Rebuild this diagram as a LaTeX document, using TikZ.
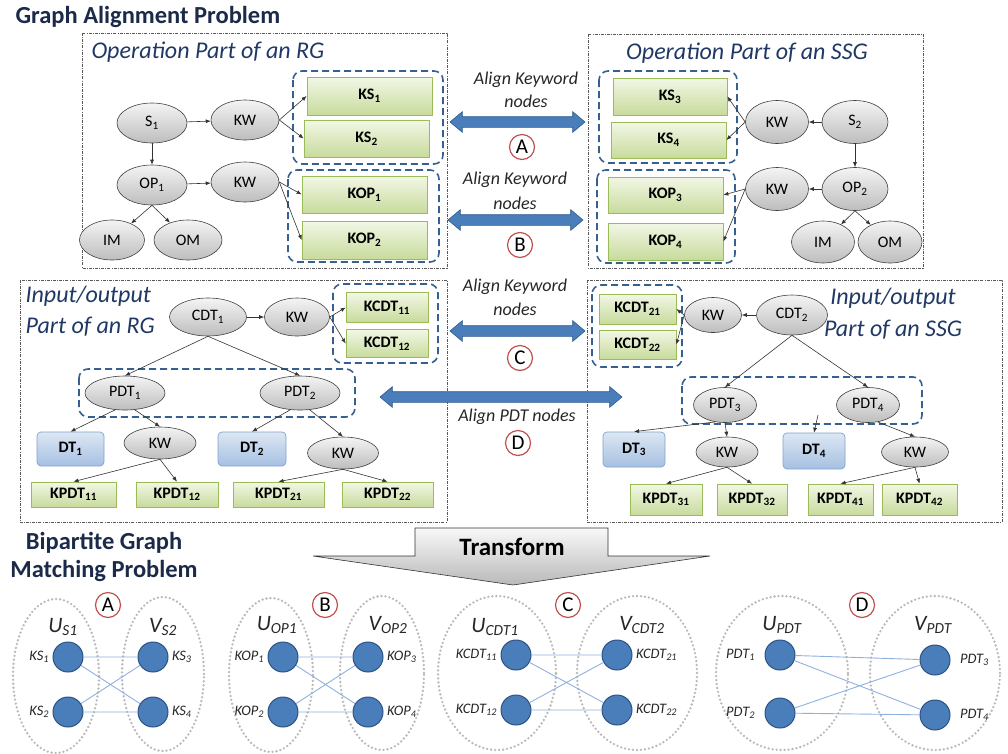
\documentclass[tikz,border=0pt]{standalone}
\usepackage{fontspec}
\setmainfont{Carlito}
\usetikzlibrary{positioning,shapes.geometric,shapes.arrows,arrows.meta}

\definecolor{darknavy}{HTML}{1B2A49}
\definecolor{navy}{HTML}{1F3864}
\definecolor{ellA}{HTML}{F4F4F4}
\definecolor{ellB}{HTML}{BDBDBD}
\definecolor{ktop}{HTML}{F2F7E6}
\definecolor{kbot}{HTML}{C8DB9C}
\definecolor{kline}{HTML}{9BBB59}
\definecolor{dttop}{HTML}{DDE7F3}
\definecolor{dtbot}{HTML}{A6C0E2}
\definecolor{dtline}{HTML}{7FA2CF}
\definecolor{grpblue}{HTML}{36608F}
\definecolor{arrfill}{HTML}{4A7EBB}
\definecolor{arrline}{HTML}{2E5A8C}
\definecolor{tagred}{HTML}{C0504D}
\definecolor{bfill}{HTML}{4A7EBB}
\definecolor{bline}{HTML}{2C5282}
\definecolor{bedgec}{HTML}{8FB1DE}

\newcommand{\pxsize}[1]{\fontsize{#1}{#1}\selectfont}
\newcommand{\sbx}[1]{\textsubscript{#1}}

\begin{document}
\begin{tikzpicture}[x=1pt,y=-1pt,
  gnode/.style 2 args={ellipse, draw=black!75, line width=0.6pt, top color=ellA, bottom color=ellB, inner sep=0pt, minimum width=#1pt, minimum height=#2pt, font=\pxsize{16}},
  kbox/.style 2 args={rectangle, draw=kline, line width=0.7pt, top color=ktop, bottom color=kbot, inner sep=0pt, minimum width=#1pt, minimum height=#2pt, font=\pxsize{16}\bfseries},
  dtbox/.style 2 args={rectangle, rounded corners=4pt, draw=dtline, line width=0.7pt, top color=dttop, bottom color=dtbot, inner sep=0pt, minimum width=#1pt, minimum height=#2pt, font=\pxsize{16}\bfseries},
  grp/.style={draw=grpblue, line width=1.6pt, dash pattern=on 7pt off 4pt, rounded corners=9pt},
  part/.style={draw=black!65, line width=0.7pt, dash pattern=on 3pt off 1.2pt on 0.8pt off 1.2pt},
  link/.style={draw=black!80, line width=0.6pt, -{Latex[length=5pt,width=4pt]}},
  align/.style={double arrow, draw=arrline, fill=arrfill, line width=0.6pt, inner xsep=0pt, inner ysep=5pt, double arrow head extend=5pt, double arrow tip angle=80},
  tag/.style={circle, draw=tagred, line width=1.2pt, fill=white, minimum size=25pt, inner sep=0pt, font=\pxsize{21}},
  note/.style={font=\pxsize{18}\itshape, text=black!85},
  ptitle/.style={font=\pxsize{24}\itshape, text=navy},
  htitle/.style={font=\pxsize{24.5}\bfseries, text=darknavy},
  bnode/.style={circle, fill=bfill, draw=bline, line width=1pt, minimum size=30pt, inner sep=0pt},
  blbl/.style={font=\pxsize{14.5}\itshape, text=black!85},
  bedge/.style={draw=bedgec, line width=0.9pt},
  side/.style={ellipse, draw=gray!55, line width=2.6pt, dash pattern=on 0pt off 4pt, line cap=round, minimum width=#1, minimum height=154pt, inner sep=0pt},
  setname/.style={font=\pxsize{22}\itshape, text=black!85}
]
\useasboundingbox (0,0) rectangle (1008,753);

\node[htitle, anchor=west] (head1) at (12,17) {Graph Alignment Problem};

% operation part of the RG
\draw[part] (82,33) rectangle (447,268);
\node[ptitle, anchor=west] (t1) at (88,52) {Operation Part of an RG};
\node[gnode={70}{40}] (s1) at (152,123) {S\sbx{1}};
\node[gnode={68}{40}] (kwa) at (245,120) {KW};
\node[gnode={70}{40}] (op1) at (152,185) {OP\sbx{1}};
\node[gnode={68}{40}] (kwb) at (245,182) {KW};
\node[gnode={65}{40}] (im1) at (112,240) {IM};
\node[gnode={68}{40}] (om1) at (188,240) {OM};
\node[kbox={125}{38}] (ks1) at (369.5,96) {KS\sbx{1}};
\node[kbox={125}{37}] (ks2) at (366.5,138.5) {KS\sbx{2}};
\node[kbox={125}{37}] (kop1) at (364.5,194.5) {KOP\sbx{1}};
\node[kbox={125}{38}] (kop2) at (364.5,240) {KOP\sbx{2}};
\draw[grp] (293,71) rectangle (443,164);
\draw[grp] (288,170) rectangle (439,262);
\draw[link] (s1) -- (kwa);
\draw[link] (s1) -- (op1);
\draw[link] (op1) -- (kwb);
\draw[link] (op1.south) -- (im1);
\draw[link] (op1.south) -- (om1);
\draw[link] (kwa.east) -- (ks1.west);
\draw[link] (kwa.east) -- (ks2.west);
\draw[link] (kwb.east) -- (kop1.west);
\draw[link] (kwb.east) -- (kop2.west);

% operation part of the SSG
\draw[part] (588,34) rectangle (923,268);
\node[ptitle] (t2) at (747,53) {Operation Part of an SSG};
\node[kbox={114}{37}] (ks3) at (670,96.5) {KS\sbx{3}};
\node[kbox={115}{36}] (ks4) at (668.5,140) {KS\sbx{4}};
\node[kbox={115}{36}] (kop3) at (665.5,195) {KOP\sbx{3}};
\node[kbox={115}{37}] (kop4) at (665.5,241.5) {KOP\sbx{4}};
\draw[grp] (599,71) rectangle (737,163);
\draw[grp] (597,170) rectangle (735,263);
\node[gnode={63}{43}] (kwc) at (777,122) {KW};
\node[gnode={66}{43}] (s2) at (855,122) {S\sbx{2}};
\node[gnode={63}{43}] (kwd) at (777,189) {KW};
\node[gnode={66}{43}] (op2) at (855,189) {OP\sbx{2}};
\node[gnode={63}{42}] (im2) at (823,242) {IM};
\node[gnode={64}{42}] (om2) at (890,242) {OM};
\draw[link] (s2) -- (kwc);
\draw[link] (s2) -- (op2);
\draw[link] (op2) -- (kwd);
\draw[link] (op2.south) -- (im2);
\draw[link] (op2.south) -- (om2);
\draw[link] (kwc.west) -- (ks3.east);
\draw[link] (kwc.west) -- (ks4.east);
\draw[link] (kwd.west) -- (kop3.east);
\draw[link] (kwd.west) -- (kop4.east);

% input/output part of the RG
\draw[part] (20,280) rectangle (447,522);
\node[ptitle, anchor=west] (t3a) at (22,296) {Input/output};
\node[ptitle, anchor=west] (t3b) at (22,327) {Part of an RG};
\node[gnode={77}{38}] (cdt1) at (208,317) {CDT\sbx{1}};
\node[gnode={65}{38}] (kwe) at (297,317) {KW};
\node[kbox={82}{30}] (kcdt11) at (387,307.5) {KCDT\sbx{11}};
\node[kbox={82}{28}] (kcdt12) at (387,343.5) {KCDT\sbx{12}};
\draw[grp] (333,284) rectangle (438,363);
\node[gnode={80}{34}] (pdt1) at (125,393) {PDT\sbx{1}};
\node[gnode={80}{34}] (pdt2) at (300,393) {PDT\sbx{2}};
\draw[grp] (79,369) rectangle (355,417);
\node[dtbox={67}{34}] (dt1) at (70.5,449) {DT\sbx{1}};
\node[dtbox={68}{34}] (dt2) at (252,449) {DT\sbx{2}};
\node[gnode={72}{32}] (kwf) at (160,443) {KW};
\node[gnode={71}{32}] (kwg) at (343,453) {KW};
\node[kbox={85}{25}] (kpdt11) at (73.5,494.5) {KPDT\sbx{11}};
\node[kbox={82}{25}] (kpdt12) at (177,494.5) {KPDT\sbx{12}};
\node[kbox={91}{25}] (kpdt21) at (278.5,494.5) {KPDT\sbx{21}};
\node[kbox={91}{25}] (kpdt22) at (387.5,494.5) {KPDT\sbx{22}};
\draw[link] (cdt1) -- (kwe);
\draw[link] (kwe.east) -- (kcdt11.west);
\draw[link] (kwe.east) -- (kcdt12.west);
\draw[link] (cdt1.south) -- (pdt1.north);
\draw[link] (cdt1.south) -- (pdt2.north);
\draw[link] (pdt1.-120) -- (dt1.north);
\draw[link] (pdt1.-60) -- (kwf.north);
\draw[link] (pdt2.-120) -- (dt2.north);
\draw[link] (pdt2.-60) -- (kwg.north);
\draw[link] (kwf.south) -- (kpdt11.north);
\draw[link] (kwf.south) -- (kpdt12.north);
\draw[link] (kwg.south) -- (kpdt21.north);
\draw[link] (kwg.south) -- (kpdt22.north);

% input/output part of the SSG
\draw[part] (587,280) rectangle (1002,522);
\node[ptitle] (t4a) at (893,298) {Input/output};
\node[ptitle] (t4b) at (893,330) {Part of an SSG};
\node[kbox={77}{30}] (kcdt21) at (637.5,309) {KCDT\sbx{21}};
\node[kbox={77}{29}] (kcdt22) at (637.5,344.5) {KCDT\sbx{22}};
\draw[grp] (592,285) rectangle (682,367);
\node[gnode={57}{35}] (kwh) at (713,315) {KW};
\node[gnode={71}{40}] (cdt2) at (792,315) {CDT\sbx{2}};
\node[gnode={63}{35}] (pdt3) at (725,405) {PDT\sbx{3}};
\node[gnode={63}{35}] (pdt4) at (868,405) {PDT\sbx{4}};
\draw[grp] (682,377) rectangle (922,424);
\node[dtbox={62}{35}] (dt3) at (634,449.5) {DT\sbx{3}};
\node[dtbox={62}{36}] (dt4) at (814,451) {DT\sbx{4}};
\node[gnode={62}{30}] (kwi) at (727,452) {KW};
\node[gnode={67}{30}] (kwj) at (915,452) {KW};
\node[kbox={72}{31}] (kpdt31) at (666,499.5) {KPDT\sbx{31}};
\node[kbox={70}{31}] (kpdt32) at (752,499.5) {KPDT\sbx{32}};
\node[kbox={65}{31}] (kpdt41) at (840.5,499.5) {KPDT\sbx{41}};
\node[kbox={75}{31}] (kpdt42) at (919.5,499.5) {KPDT\sbx{42}};
\coordinate (dtstub) at (818,415);
\draw[link] (cdt2) -- (kwh);
\draw[link] (kwh.west) -- (kcdt21.east);
\draw[link] (kwh.west) -- (kcdt22.east);
\draw[link] (cdt2.south) -- (pdt3.north);
\draw[link] (cdt2.south) -- (pdt4.north);
\draw[link] (pdt3.-120) -- (dt3.north);
\draw[link] (pdt3.-90) -- (kwi.north);
\draw[link] (pdt4.-60) -- (kwj.north);
\draw[link] (dtstub) -- (dt4.north);
\draw[link] (kwi.south) -- (kpdt31.north);
\draw[link] (kwi.south) -- (kpdt32.north);
\draw[link] (kwj.south) -- (kpdt41.north);
\draw[link] (kwj.south) -- (kpdt42.north);

% alignment arrows
\node[note] (na1) at (526,80) {Align Keyword};
\node[note] (na2) at (526,101) {nodes};
\node[align, minimum height=135pt] (alA) at (517.5,122) {};
\node[tag] (tgA) at (522,147) {A};
\node[note] (nb1) at (515,180) {Align Keyword};
\node[note] (nb2) at (515,203) {nodes};
\node[align, minimum height=135pt] (alB) at (515.5,220) {};
\node[tag] (tgB) at (520,245) {B};
\node[note] (nc1) at (515,287) {Align Keyword};
\node[note] (nc2) at (515,309) {nodes};
\node[align, minimum height=135pt] (alC) at (517.5,331) {};
\node[tag] (tgC) at (520,358) {C};
\node[align, minimum height=242pt] (alD) at (501,397) {};
\node[note] (nd) at (517,417) {Align PDT nodes};
\node[tag] (tgD) at (518,443) {D};

% transform
\shade[top color=gray!5, bottom color=gray!55, draw=black!80, line width=0.6pt]
  (415,528) -- (608,528) -- (608,556) -- (710,556) -- (513,585) -- (313,556) -- (415,556) -- cycle;
\node[font=\pxsize{25}\bfseries] (xform) at (512,547) {Transform};
\node[htitle] (head2a) at (104,543) {Bipartite Graph};
\node[htitle] (head2b) at (104,571) {Matching Problem};

% bipartite A
\node[side=86pt] (ua) at (56,676) {};
\node[side=82pt] (va) at (163,674) {};
\node[tag] (bA) at (108,605) {A};
\node[setname] (lua) at (63,627) {U\sbx{S1}};
\node[setname] (lva) at (163,627) {V\sbx{S2}};
\node[bnode, label={[blbl]left:KS\sbx{1}}] (a1) at (68,657) {};
\node[bnode, label={[blbl]left:KS\sbx{2}}] (a2) at (68,712) {};
\node[bnode, label={[blbl]right:KS\sbx{3}}] (a3) at (153,657) {};
\node[bnode, label={[blbl]right:KS\sbx{4}}] (a4) at (153,712) {};
\draw[bedge] (a1) -- (a3) (a1) -- (a4) (a2) -- (a3) (a2) -- (a4);

% bipartite B
\node[side=84pt] (ub) at (271,675) {};
\node[side=84pt] (vb) at (382,673) {};
\node[tag] (bB) at (325,605) {B};
\node[setname] (lub) at (277,625) {U\sbx{OP1}};
\node[setname] (lvb) at (388,625) {V\sbx{OP2}};
\node[bnode, label={[blbl]left:KOP\sbx{1}}] (b1) at (283,657) {};
\node[bnode, label={[blbl]left:KOP\sbx{2}}] (b2) at (283,712) {};
\node[bnode, label={[blbl]right:KOP\sbx{3}}] (b3) at (368,657) {};
\node[bnode, label={[blbl]right:KOP\sbx{4}}] (b4) at (368,712) {};
\draw[bedge] (b1) -- (b3) (b1) -- (b4) (b2) -- (b3) (b2) -- (b4);

% bipartite C
\node[side=118pt] (uc) at (497,673) {};
\node[side=120pt] (vc) at (637,673) {};
\node[tag] (bC) at (568,605) {C};
\node[setname] (luc) at (495,627) {U\sbx{CDT1}};
\node[setname] (lvc) at (642,625) {V\sbx{CDT2}};
\node[bnode, label={[blbl]left:KCDT\sbx{11}}] (c1) at (516,655) {};
\node[bnode, label={[blbl]left:KCDT\sbx{12}}] (c2) at (516,710) {};
\node[bnode, label={[blbl]right:KCDT\sbx{21}}] (c3) at (617,655) {};
\node[bnode, label={[blbl]right:KCDT\sbx{22}}] (c4) at (617,710) {};
\draw[bedge] (c1) -- (c3) (c1) -- (c4) (c2) -- (c3) (c2) -- (c4);

% bipartite D
\node[side=132pt] (ud) at (782,673) {};
\node[side=130pt] (vd) at (935,673) {};
\node[tag] (bD) at (862,605) {D};
\node[setname] (lud) at (782,625) {U\sbx{PDT}};
\node[setname] (lvd) at (933,625) {V\sbx{PDT}};
\node[bnode, label={[blbl, xshift=-6pt]left:PDT\sbx{1}}] (d1) at (780,655) {};
\node[bnode, label={[blbl, xshift=-6pt]left:PDT\sbx{2}}] (d2) at (780,713) {};
\node[bnode, label={[blbl, xshift=6pt]right:PDT\sbx{3}}] (d3) at (935,660) {};
\node[bnode, label={[blbl, xshift=6pt]right:PDT\sbx{4}}] (d4) at (935,715) {};
\draw[bedge] (d1) -- (d3) (d1) -- (d4) (d2) -- (d3) (d2) -- (d4);
\end{tikzpicture}
\end{document}
